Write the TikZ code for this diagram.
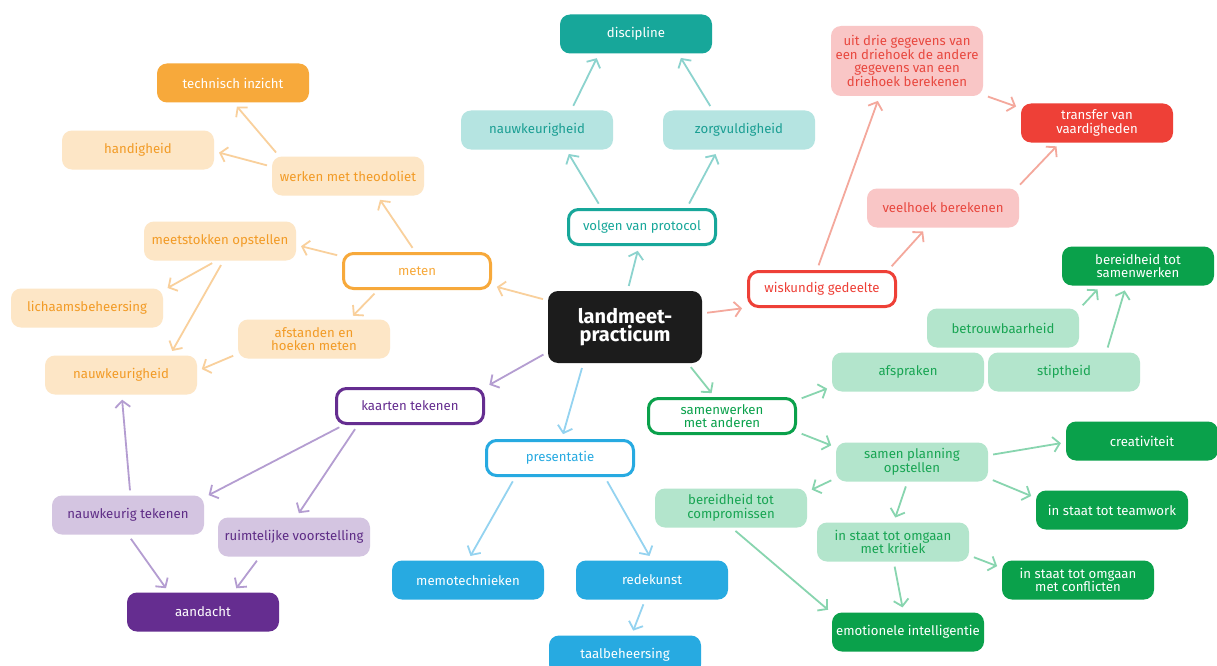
\documentclass[tikz,border=0pt]{standalone}
\usepackage{fontspec}
\setmainfont{Fira Sans}
\usetikzlibrary{arrows.meta}
\definecolor{orgD}{HTML}{F7A93B}
\definecolor{orgL}{HTML}{FDE6C6}
\definecolor{orgT}{HTML}{F29B26}
\definecolor{orgA}{HTML}{F9D09C}
\definecolor{telD}{HTML}{17A79A}
\definecolor{telL}{HTML}{B5E4E1}
\definecolor{telT}{HTML}{1A9E93}
\definecolor{telA}{HTML}{8CD3CE}
\definecolor{redD}{HTML}{EE4037}
\definecolor{redL}{HTML}{F9C6C6}
\definecolor{redT}{HTML}{E8483F}
\definecolor{redA}{HTML}{F4A89C}
\definecolor{grnD}{HTML}{0AA14B}
\definecolor{grnL}{HTML}{B3E5CC}
\definecolor{grnT}{HTML}{18A553}
\definecolor{grnA}{HTML}{88D5AF}
\definecolor{purD}{HTML}{652D90}
\definecolor{purL}{HTML}{D4C5E1}
\definecolor{purT}{HTML}{5E2C86}
\definecolor{purA}{HTML}{B49DD1}
\definecolor{bluD}{HTML}{27AAE1}
\definecolor{bluA}{HTML}{94D3F0}
\definecolor{coreblack}{HTML}{1C1C1C}

\begin{document}
\begin{tikzpicture}[x=1pt, y=-1pt,
    box/.style={rounded corners=10pt, minimum width=152pt, minimum height=39pt,
        align=center, inner sep=2pt, font=\fontsize{13.2}{13.5}\selectfont},
    dark/.style={box, fill=#1, text=white},
    pale/.style 2 args={box, fill=#1, text=#2},
    hub/.style={box, draw=#1, line width=3pt, fill=white, text=#1,
        minimum width=147pt, minimum height=35pt},
    link/.style={draw=#1, line width=1.8pt, -{Straight Barb[length=6.5pt,width=15pt]},
        shorten <=5pt, shorten >=5pt}]
    \useasboundingbox (0,0) rectangle (1217,666);
    \fill[white] (0,0) rectangle (1217,666);

    % Centre
    \node[box, fill=coreblack, text=white, minimum width=154pt, minimum height=72pt,
        font=\fontsize{20}{18}\selectfont\bfseries] (lm) at (625,327) {landmeet-\\practicum};

    % Meten (orange)
    \node[hub=orgD] (meten) at (417,271) {meten};
    \node[dark=orgD] (tech) at (233,83) {technisch inzicht};
    \node[pale={orgL}{orgT}] (handig) at (138,150) {handigheid};
    \node[pale={orgL}{orgT}] (theo) at (348,176) {werken met theodoliet};
    \node[pale={orgL}{orgT}] (stokken) at (220,241) {meetstokken opstellen};
    \node[pale={orgL}{orgT}] (lichaam) at (87,308) {lichaamsbeheersing};
    \node[pale={orgL}{orgT}] (afstand) at (314,339) {afstanden en\\hoeken meten};
    \node[pale={orgL}{orgT}] (nauwO) at (121,375) {nauwkeurigheid};

    % Volgen van protocol (teal)
    \node[hub=telD] (protocol) at (642,227) {volgen van protocol};
    \node[dark=telD] (disc) at (636,34) {discipline};
    \node[pale={telL}{telT}] (nauwT) at (537,130) {nauwkeurigheid};
    \node[pale={telL}{telT}] (zorg) at (739,130) {zorgvuldigheid};

    % Wiskundig gedeelte (red)
    \node[hub=redD] (wisk) at (822,289) {wiskundig gedeelte};
    \node[pale={redL}{redT}, minimum height=70pt] (drie) at (907,61)
        {uit drie gegevens van\\een driehoek de andere\\gegevens van een\\driehoek berekenen};
    \node[dark=redD] (transfer) at (1097,123) {transfer van\\vaardigheden};
    \node[pale={redL}{redT}] (veelhoek) at (943,208) {veelhoek berekenen};

    % Samenwerken met anderen (green)
    \node[hub=grnD] (samen) at (722,416) {samenwerken\\met anderen};
    \node[dark=grnD] (bereidS) at (1138,266) {bereidheid tot\\samenwerken};
    \node[pale={grnL}{grnT}] (betrouw) at (1003,328) {betrouwbaarheid};
    \node[pale={grnL}{grnT}] (afspr) at (908,372) {afspraken};
    \node[pale={grnL}{grnT}] (stipt) at (1064,372) {stiptheid};
    \node[pale={grnL}{grnT}] (planning) at (912,462) {samen planning\\opstellen};
    \node[dark=grnD] (creat) at (1142,441) {creativiteit};
    \node[pale={grnL}{grnT}] (compr) at (731,508) {bereidheid tot\\compromissen};
    \node[dark=grnD] (team) at (1112,510) {in staat tot teamwork};
    \node[pale={grnL}{grnT}] (kritiek) at (893,542) {in staat tot omgaan\\met kritiek};
    \node[dark=grnD] (conflict) at (1078,580) {in staat tot omgaan\\met conflicten};
    \node[dark=grnD] (emo) at (908,632) {emotionele intelligentie};

    % Kaarten tekenen (purple)
    \node[hub=purD] (kaarten) at (410,406) {kaarten tekenen};
    \node[pale={purL}{purT}] (nauwTek) at (128,515) {nauwkeurig tekenen};
    \node[pale={purL}{purT}] (ruimte) at (294,537) {ruimtelijke voorstelling};
    \node[dark=purD] (aandacht) at (203,612) {aandacht};

    % Presentatie (blue)
    \node[hub=bluD] (present) at (560,458) {presentatie};
    \node[dark=bluD] (memo) at (468,580) {memotechnieken};
    \node[dark=bluD] (rede) at (652,580) {redekunst};
    \node[dark=bluD] (taal) at (625,655) {taalbeheersing};

    % Connectors
    \draw[link=orgA] (lm.161) -- (meten.-11);
    \draw[link=orgA] (meten.95) -- (theo.-34);
    \draw[link=orgA] (theo.164) -- (tech.-88);
    \draw[link=orgA] (theo.173) -- (handig.-1);
    \draw[link=orgA] (meten.169) -- (stokken.-3);
    \draw[link=orgA] (stokken.-100) -- (lichaam.13);
    \draw[link=orgA] (stokken.-80) -- (nauwO.22);
    \draw[link=orgA] (meten.-154) -- (afstand.29);
    \draw[link=orgA] (afstand.-169) -- (nauwO.3);

    \draw[link=telA] (lm.86) -- (protocol.-99);
    \draw[link=telA] (protocol.155) -- (nauwT.-34);
    \draw[link=telA] (protocol.23) -- (zorg.-137);
    \draw[link=telA] (nauwT.30) -- (disc.-152);
    \draw[link=telA] (zorg.143) -- (disc.-25);

    \draw[link=redA] (lm.10) -- (wisk.-166);
    \draw[link=redA] (wisk.105) -- (drie.-128);
    \draw[link=redA] (wisk.16) -- (veelhoek.-130);
    \draw[link=redA] (drie.-24) -- (transfer.169);
    \draw[link=redA] (veelhoek.15) -- (transfer.-152);

    \draw[link=grnA] (lm.-30) -- (samen.111);
    \draw[link=grnA] (samen.12) -- (afspr.-169);
    \draw[link=grnA] (samen.-12) -- (planning.169);
    \draw[link=grnA] (betrouw.14) -- (bereidS.-152);
    \draw[link=grnA] (stipt.25) -- (bereidS.-121);
    \draw[link=grnA] (planning.5) -- (creat.-179);
    \draw[link=grnA] (planning.-12) -- (team.171);
    \draw[link=grnA] (planning.-168) -- (compr.12);
    \draw[link=grnA] (planning.-103) -- (kritiek.88);
    \draw[link=grnA] (kritiek.-10) -- (conflict.171);
    \draw[link=grnA] (kritiek.-88) -- (emo.103);
    \draw[link=grnA] (compr.-88) -- (emo.166);

    \draw[link=purA] (lm.-162) -- (kaarten.14);
    \draw[link=purA] (kaarten.-164) -- (nauwTek.13);
    \draw[link=purA] (kaarten.-160) -- (ruimte.84);
    \draw[link=purA] (nauwTek.83) -- (nauwO.-88);
    \draw[link=purA] (nauwTek.-90) -- (aandacht.150);
    \draw[link=purA] (ruimte.-150) -- (aandacht.33);

    \draw[link=bluA] (lm.-139) -- (present.85);
    \draw[link=bluA] (present.-157) -- (memo.90);
    \draw[link=bluA] (present.-23) -- (rede.90);
    \draw[link=bluA] (rede.-109) -- (taal.72);
\end{tikzpicture}
\end{document}
